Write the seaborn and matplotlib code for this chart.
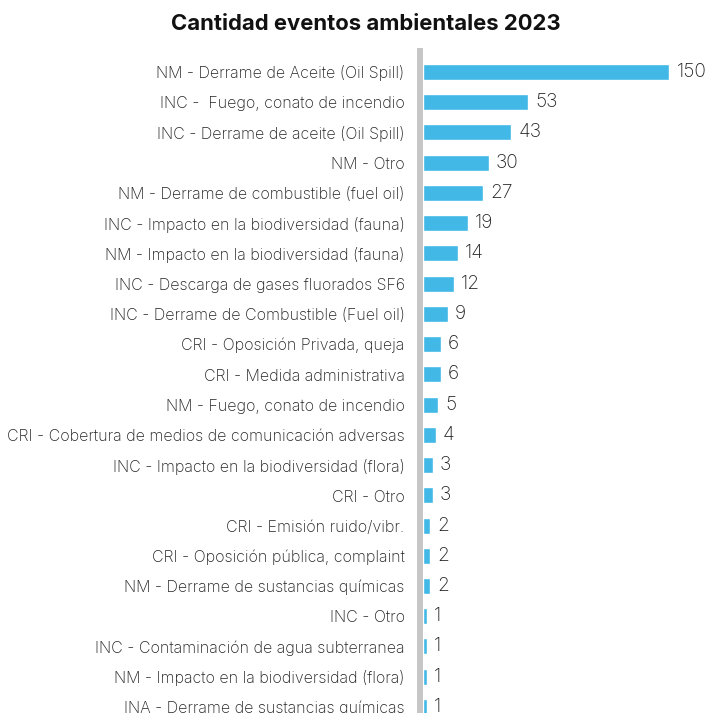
import numpy as np
import matplotlib
matplotlib.use("Agg")
import matplotlib.pyplot as plt
import seaborn as sns

categories = [
    "NM - Derrame de Aceite (Oil Spill)",
    "INC -  Fuego, conato de incendio",
    "INC - Derrame de aceite (Oil Spill)",
    "NM - Otro",
    "NM - Derrame de combustible (fuel oil)",
    "INC - Impacto en la biodiversidad (fauna)",
    "NM - Impacto en la biodiversidad (fauna)",
    "INC - Descarga de gases fluorados SF6",
    "INC - Derrame de Combustible (Fuel oil)",
    "CRI - Oposición Privada, queja",
    "CRI - Medida administrativa",
    "NM - Fuego, conato de incendio",
    "CRI - Cobertura de medios de comunicación adversas",
    "INC - Impacto en la biodiversidad (flora)",
    "CRI - Otro",
    "CRI - Emisión ruido/vibr.",
    "CRI - Oposición pública, complaint",
    "NM - Derrame de sustancias químicas",
    "INC - Otro",
    "INC - Contaminación de agua subterranea",
    "NM - Impacto en la biodiversidad (flora)",
    "INA - Derrame de sustancias químicas",
]
values = [150, 53, 43, 30, 27, 19, 14, 12, 9, 6, 6, 5, 4, 3, 3, 2, 2, 2, 1, 1, 1, 1]
title = "Cantidad eventos ambientales 2023"

sns.set_theme(style="white")
plt.rcParams["font.family"] = ["Inter", "DejaVu Sans"]

W, H = 722, 713
fig = plt.figure(figsize=(W / 100, H / 100), dpi=100)
left_px, right_px, top_px = 423, 700, 51
ax = fig.add_axes([left_px / W, 0, (right_px - left_px) / W, 1 - top_px / H])

sns.barplot(x=values, y=categories, orient="h", color="#41b8e6",
            saturation=1, width=0.53, ax=ax)

p = 0.82
ax.set_xscale("function", functions=(lambda v: np.sign(v) * np.abs(v) ** p,
                                     lambda v: np.sign(v) * np.abs(v) ** (1 / p)))
ax.set_xlim(0, 173)
ax.set_ylim(21.2, -0.694)

for c in ax.containers:
    ax.bar_label(c, padding=5, fontsize=13.8, color="#222222", fontweight="light")

for s in ["top", "right", "bottom"]:
    ax.spines[s].set_visible(False)
ax.spines["left"].set_color("#c6c6c6")
ax.spines["left"].set_linewidth(4.3)
ax.spines["left"].set_position(("outward", 2.2))
ax.set_xticks([])
ax.set_xlabel("")
ax.set_ylabel("")
ax.tick_params(axis="y", length=0, pad=11, labelsize=11.5, labelcolor="#222222")
for t in ax.get_yticklabels():
    t.set_fontweight("light")

fig.text(366 / W, 1 - 24 / H, title, ha="center", va="center",
         fontsize=15.9, fontweight="bold", color="#111111")

fig.savefig("out.png", dpi=100)
